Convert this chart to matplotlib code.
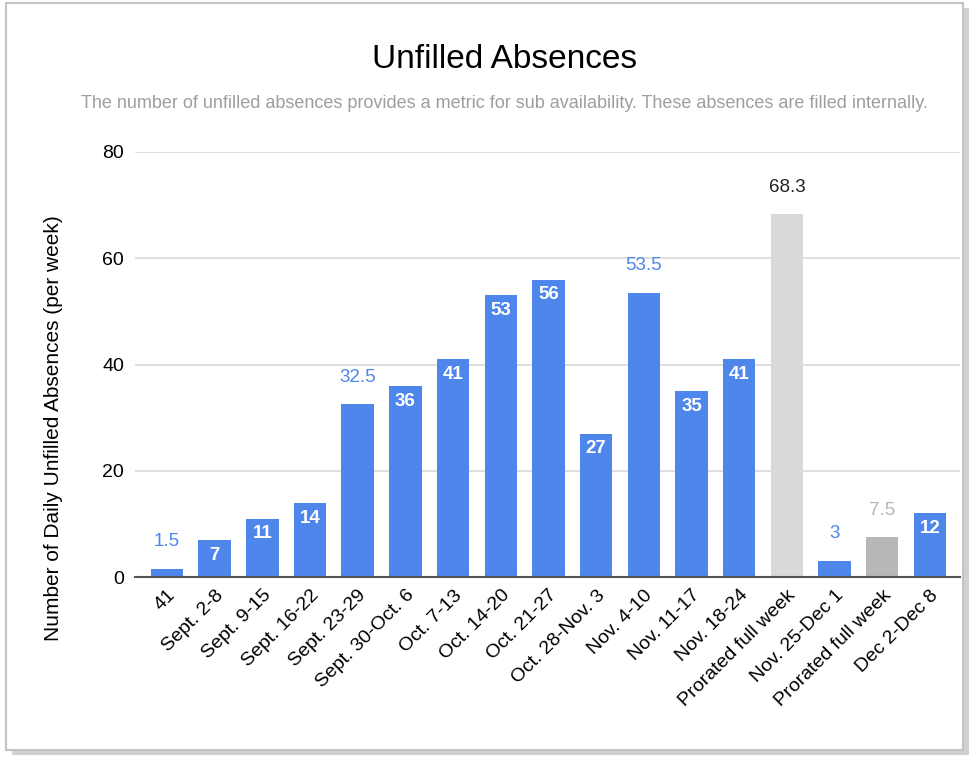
import matplotlib.pyplot as plt
from matplotlib.patches import Rectangle

weeks = ['41', 'Sept. 2-8', 'Sept. 9-15', 'Sept. 16-22', 'Sept. 23-29',
         'Sept. 30-Oct. 6', 'Oct. 7-13', 'Oct. 14-20', 'Oct. 21-27',
         'Oct. 28-Nov. 3', 'Nov. 4-10', 'Nov. 11-17', 'Nov. 18-24',
         'Prorated full week', 'Nov. 25-Dec 1', 'Prorated full week', 'Dec 2-Dec 8']
absences = [1.5, 7, 11, 14, 32.5, 36, 41, 53, 56, 27, 53.5, 35, 41, 68.3, 3, 7.5, 12]
value_labels = ['1.5', '7', '11', '14', '32.5', '36', '41', '53', '56', '27',
                '53.5', '35', '41', '68.3', '3', '7.5', '12']
# 'in' = white inside the bar, 'out' = above the bar
label_place = ['out', 'in', 'in', 'in', 'out', 'in', 'in', 'in', 'in', 'in',
               'out', 'in', 'in', 'out', 'out', 'out', 'in']

blue = '#4f86ec'
bar_colors = [blue] * 17
bar_colors[13] = '#d9d9d9'
bar_colors[15] = '#b7b7b7'
out_colors = {13: '#222222', 15: '#b7b7b7'}

plt.rcParams['font.family'] = ['Liberation Sans', 'DejaVu Sans']

fig = plt.figure(figsize=(9.79, 7.61), dpi=100)
# card frame with a little shadow
fig.patches.append(Rectangle((0.012, 0.008), 0.978, 0.982, transform=fig.transFigure,
                             facecolor='#d0d0d0', edgecolor='none', zorder=-2))
fig.patches.append(Rectangle((0.006, 0.014), 0.978, 0.982, transform=fig.transFigure,
                             facecolor='white', edgecolor='#c4c4c4', lw=1.5, zorder=-1))

ax = fig.add_axes([135 / 979, 1 - 577 / 761, 825 / 979, 425 / 761])
ax.patch.set_alpha(0)
x = list(range(len(weeks)))
ax.bar(x, absences, width=0.68, color=bar_colors, zorder=2)

for i, v in enumerate(absences):
    if label_place[i] == 'in':
        ax.text(i, v - 1.3, value_labels[i], ha='center', va='top', color='white',
                fontsize=13.5, fontweight='bold', zorder=3)
    else:
        ax.text(i, v + 3.5, value_labels[i], ha='center', va='bottom',
                color=out_colors.get(i, blue), fontsize=13.5, zorder=3)

ax.set_xlim(-0.67, 16.63)
ax.set_ylim(0, 80)
ax.set_yticks([0, 20, 40, 60, 80])
ax.tick_params(axis='y', length=0, labelsize=14, pad=8)
ax.tick_params(axis='x', length=0, pad=7)
ax.set_xticks(x)
ax.set_xticklabels(weeks, rotation=45, ha='right', rotation_mode='anchor', fontsize=14)
ax.grid(axis='y', color='#d9d9d9', lw=1.2, zorder=0)
for s in ['top', 'right', 'left']:
    ax.spines[s].set_visible(False)
ax.spines['bottom'].set_color('#555555')
ax.spines['bottom'].set_linewidth(1.5)
ax.spines['bottom'].set_zorder(4)
ax.set_ylabel('Number of Daily Unfilled Absences (per week)', fontsize=15)
ax.yaxis.set_label_coords(-0.087, 0.35)

fig.text(0.515, 1 - 60 / 761, 'Unfilled Absences', ha='center', va='center', fontsize=24)
fig.text(0.515, 1 - 103 / 761,
         'The number of unfilled absences provides a metric for sub availability. These absences are filled internally.',
         ha='center', va='center', fontsize=13, color='#9e9e9e')

fig.savefig('out.png', dpi=100)
